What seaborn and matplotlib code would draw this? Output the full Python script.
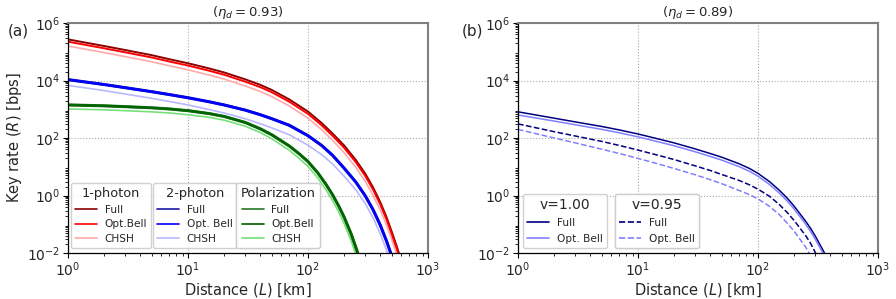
import numpy as np
import pandas as pd
import matplotlib
matplotlib.use("Agg")
import matplotlib.pyplot as plt
import seaborn as sns
from matplotlib.ticker import LogLocator, NullFormatter
from matplotlib.lines import Line2D

# ---------------- data (log10 of key rate in bps) ----------------
# Panel (a): distances in km
L_red = [1, 2, 3, 5, 7, 10, 15, 20, 30, 40, 50, 70, 100, 130, 160, 200, 250, 300, 350, 400, 450, 500, 550, 590, 620]
red_full_log = [5.43, 5.20, 5.06, 4.88, 4.74, 4.60, 4.42, 4.28, 4.04, 3.85, 3.67, 3.34, 2.92, 2.52, 2.16, 1.74, 1.24, 0.76, 0.27, -0.23, -0.74, -1.27, -1.78, -2.18, -2.50]
red_bell_log = [5.35, 5.12, 4.98, 4.80, 4.66, 4.52, 4.34, 4.20, 3.96, 3.77, 3.59, 3.26, 2.84, 2.44, 2.08, 1.66, 1.16, 0.68, 0.19, -0.31, -0.82, -1.35, -1.86, -2.26, -2.58]
red_chsh_log = [5.20, 4.97, 4.83, 4.65, 4.51, 4.37, 4.19, 4.05, 3.81, 3.62, 3.44, 3.11, 2.69, 2.29, 1.92, 1.49, 0.98, 0.49, -0.01, -0.51, -1.02, -1.55, -2.06, -2.46, -2.80]

L_blue = [1, 2, 3, 5, 7, 10, 15, 20, 30, 40, 50, 70, 100, 130, 160, 200, 250, 300, 350, 400, 450, 500, 530]
blue_full_log = [4.03, 3.86, 3.75, 3.61, 3.51, 3.40, 3.26, 3.15, 2.97, 2.81, 2.67, 2.44, 2.08, 1.74, 1.40, 0.95, 0.47, -0.01, -0.51, -1.03, -1.57, -2.12, -2.45]
blue_bell_log = [4.03, 3.86, 3.75, 3.61, 3.51, 3.40, 3.26, 3.15, 2.97, 2.81, 2.67, 2.44, 2.08, 1.74, 1.40, 0.95, 0.47, -0.01, -0.51, -1.03, -1.57, -2.12, -2.45]
blue_chsh_log = [3.83, 3.65, 3.53, 3.38, 3.27, 3.15, 2.99, 2.87, 2.67, 2.50, 2.35, 2.11, 1.75, 1.42, 1.10, 0.67, 0.20, -0.28, -0.79, -1.33, -1.89, -2.47, -2.83]

L_green = [1, 2, 3, 5, 7, 10, 15, 20, 30, 40, 50, 70, 85, 100, 120, 140, 160, 180, 200, 230, 255, 280]
green_full_log = [3.15, 3.12, 3.09, 3.05, 3.01, 2.95, 2.85, 2.75, 2.54, 2.32, 2.11, 1.72, 1.44, 1.18, 0.80, 0.41, 0.03, -0.36, -0.75, -1.36, -1.90, -2.47]
green_bell_log = [3.15, 3.12, 3.09, 3.05, 3.01, 2.95, 2.85, 2.75, 2.54, 2.32, 2.11, 1.72, 1.44, 1.18, 0.80, 0.41, 0.03, -0.36, -0.75, -1.36, -1.90, -2.47]
green_chsh_log = [3.01, 2.98, 2.95, 2.91, 2.87, 2.81, 2.72, 2.62, 2.41, 2.19, 1.97, 1.57, 1.28, 1.01, 0.62, 0.22, -0.17, -0.57, -0.97, -1.60, -2.15, -2.75]

# Panel (b)
L_b = [1, 2, 3, 5, 7, 10, 15, 20, 30, 40, 50, 70, 85, 100, 125, 150, 175, 200, 250, 275, 300, 350, 400]
v100_full_log = [2.91, 2.69, 2.56, 2.40, 2.28, 2.14, 1.96, 1.83, 1.62, 1.46, 1.33, 1.10, 0.94, 0.77, 0.48, 0.19, -0.09, -0.37, -0.90, -1.15, -1.41, -1.92, -2.41]
v100_bell_log = [2.80, 2.59, 2.46, 2.30, 2.18, 2.04, 1.86, 1.73, 1.52, 1.36, 1.23, 1.00, 0.84, 0.67, 0.38, 0.09, -0.19, -0.47, -1.00, -1.26, -1.52, -2.03, -2.52]
v095_full_log = [2.49, 2.22, 2.07, 1.88, 1.74, 1.58, 1.39, 1.25, 1.03, 0.87, 0.73, 0.52, 0.37, 0.22, -0.03, -0.31, -0.59, -0.87, -1.40, -1.67, -1.98, -2.55, -3.10]
v095_bell_log = [2.30, 2.00, 1.83, 1.61, 1.46, 1.29, 1.09, 0.94, 0.72, 0.55, 0.41, 0.17, 0.03, -0.12, -0.38, -0.66, -0.96, -1.24, -1.80, -2.10, -2.45, -3.10, -3.60]

# ---------------- styling ----------------
sns.set_theme(style="ticks")
plt.rcParams["font.family"] = ["DejaVu Sans"]
plt.rcParams["mathtext.fontset"] = "dejavusans"

fig = plt.figure(figsize=(8.96, 2.99), dpi=100)
axa = fig.add_axes([68 / 896, 1 - 253 / 299, 360 / 896, 230 / 299])
axb = fig.add_axes([518 / 896, 1 - 253 / 299, 360 / 896, 230 / 299])


def draw(ax, L, logvals, color, lw, ls="-"):
    df = pd.DataFrame({"L": L, "R": np.power(10.0, logvals)})
    sns.lineplot(data=df, x="L", y="R", ax=ax, color=color, lw=lw,
                 linestyle=ls, estimator=None, sort=True)
    return ax.lines[-1]


# panel (a)
h_rc = draw(axa, L_red, red_chsh_log, "#ffaaaa", 1.2)
h_rf = draw(axa, L_red, red_full_log, "#8b0000", 1.4)
h_rb = draw(axa, L_red, red_bell_log, "#ff0000", 1.4)
h_bc = draw(axa, L_blue, blue_chsh_log, "#b8b8ff", 1.2)
h_bf = draw(axa, L_blue, blue_full_log, "#1a1aa6", 2.2)
h_bb = draw(axa, L_blue, blue_bell_log, "#0000ff", 1.8)
h_gc = draw(axa, L_green, green_chsh_log, "#77e077", 1.2)
h_gf = draw(axa, L_green, green_full_log, "#2a7a2a", 2.2)
h_gb = draw(axa, L_green, green_bell_log, "#006400", 1.8)

# panel (b)
h_1f = draw(axb, L_b, v100_full_log, "#000080", 1.1)
h_1b = draw(axb, L_b, v100_bell_log, "#8080ff", 1.1)
h_2f = draw(axb, L_b, v095_full_log, "#000080", 1.1, "--")
h_2b = draw(axb, L_b, v095_bell_log, "#8080ff", 1.1, "--")

for ax, title, tag, tagx in [(axa, r"$(\eta_d = 0.93)$", "(a)", 8),
                             (axb, r"$(\eta_d = 0.89)$", "(b)", 462)]:
    ax.set_xscale("log")
    ax.set_yscale("log")
    ax.set_xlim(1, 1e3)
    ax.set_ylim(1e-2, 1e6)
    ax.set_yticks([1e-2, 1e0, 1e2, 1e4, 1e6])
    ax.set_xticks([1e0, 1e1, 1e2, 1e3])
    ax.yaxis.set_minor_locator(LogLocator(base=10, subs=np.arange(2, 10), numticks=20))
    ax.xaxis.set_minor_locator(LogLocator(base=10, subs=np.arange(2, 10), numticks=20))
    ax.yaxis.set_minor_formatter(NullFormatter())
    ax.xaxis.set_minor_formatter(NullFormatter())
    ax.grid(True, which="major", linestyle=":", color="#aaaaaa", lw=0.8)
    ax.tick_params(axis="both", which="major", labelsize=10, length=3.5, width=0.8,
                   direction="out", color="black", pad=2)
    ax.tick_params(axis="both", which="minor", length=2, width=0.6, color="black")
    for s in ["top", "right"]:
        ax.spines[s].set_color("#808080")
        ax.spines[s].set_linewidth(1.5)
    for s in ["left", "bottom"]:
        ax.spines[s].set_color("black")
        ax.spines[s].set_linewidth(0.9)
    ax.set_xlabel(r"Distance ($L$) [km]", fontsize=10.5, labelpad=1)
    ax.set_ylabel("")
    ax.set_title(title, fontsize=9.5, pad=5)
    fig.text(tagx / 896, 1 - 31 / 299, tag, fontsize=11, va="center", ha="left")

axa.set_ylabel(r"Key rate ($R$) [bps]", fontsize=10.5, labelpad=2)


def mk_leg(ax, handles, labels, title, x, y, tfs=9.3, ls=0.42):
    proxies = [Line2D([], [], color=h.get_color(), lw=1.2, linestyle=h.get_linestyle())
               for h in handles]
    leg = ax.legend(proxies, labels, title=title, loc="lower left",
                    bbox_to_anchor=(x, y), borderaxespad=0, fontsize=7.6,
                    title_fontsize=tfs, handlelength=2.1, handletextpad=0.7,
                    labelspacing=ls, borderpad=0.4, framealpha=0.9,
                    edgecolor="#cccccc", fancybox=True)
    ax.add_artist(leg)
    return leg


mk_leg(axa, [h_rf, h_rb, h_rc], ["Full", "Opt.Bell", "CHSH"], "1-photon", 0.008, 0.022)
mk_leg(axa, [h_bf, h_bb, h_bc], ["Full", "Opt. Bell", "CHSH"], "2-photon", 0.236, 0.022)
mk_leg(axa, [h_gf, h_gb, h_gc], ["Full", "Opt.Bell", "CHSH"], "Polarization", 0.467, 0.022)
mk_leg(axb, [h_1f, h_1b], ["Full", "Opt. Bell"], "v=1.00", 0.014, 0.022, 10, 0.55)
mk_leg(axb, [h_2f, h_2b], ["Full", "Opt. Bell"], "v=0.95", 0.269, 0.022, 10, 0.55)

fig.savefig("out.png", dpi=100)
